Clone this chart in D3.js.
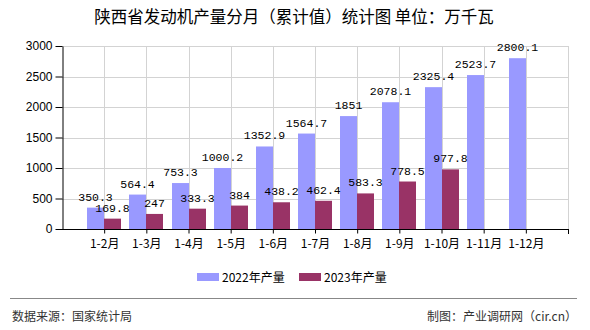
<!DOCTYPE html>
<html><head><meta charset="utf-8">
<script src="https://cdn.jsdelivr.net/npm/d3@7"></script>
<style>body{margin:0;background:#fff}svg{display:block}</style>
</head><body>
<svg id="c" width="590" height="330"></svg>
<script>
const categories = ["1-2月","1-3月","1-4月","1-5月","1-6月","1-7月","1-8月","1-9月","1-10月","1-11月","1-12月"];
const values2022 = [350.3,564.4,753.3,1000.2,1352.9,1564.7,1851,2078.1,2325.4,2523.7,2800.1];
const values2023 = [169.8,247,333.3,384,438.2,462.4,583.3,778.5,977.8,null,null];
const yTicks = [0,500,1000,1500,2000,2500,3000];
const seriesNames = ["2022年产量","2023年产量"];
const colors = ["#9999FF","#993366"];

const svg = d3.select("#c");
const L = 62, R = 568, T = 46, B = 229;
const x = d3.scalePoint().domain(categories).range([L, R]).padding(1);
const y = d3.scaleLinear().domain([0, 3000]).range([B, T]);
const bw = 17;
const cjk = "'Noto Sans CJK SC','Noto Sans',sans-serif";

// title
svg.append("text").attr("x", 294).attr("y", 23).attr("text-anchor", "middle")
  .attr("font-family", cjk).attr("font-size", 16.5).attr("fill", "#000")
  .text("陕西省发动机产量分月（累计值）统计图 单位：万千瓦");

// grid
const grid = svg.append("g").attr("stroke", "#d3d3d3").attr("stroke-width", 1);
yTicks.filter(d => d > 0).forEach(d => {
  grid.append("line").attr("x1", L).attr("x2", R).attr("y1", Math.round(y(d)) + 0.5).attr("y2", Math.round(y(d)) + 0.5);
});
categories.forEach(c => {
  grid.append("line").attr("x1", Math.round(x(c)) + 0.5).attr("x2", Math.round(x(c)) + 0.5).attr("y1", T).attr("y2", B);
});
grid.append("line").attr("x1", R + 0.5).attr("x2", R + 0.5).attr("y1", T).attr("y2", B);

// bars
const bars = svg.append("g");
categories.forEach((c, i) => {
  const cx = Math.round(x(c));
  [values2022[i], values2023[i]].forEach((v, s) => {
    if (v == null) return;
    const x0 = s === 0 ? cx - bw : cx;
    bars.append("rect").attr("x", x0).attr("y", y(v)).attr("width", bw).attr("height", B - y(v))
      .attr("fill", colors[s]);
    svg.append("text").attr("x", x0 + bw / 2).attr("y", y(v) - 7).attr("text-anchor", "middle")
      .attr("font-family", "'Liberation Mono','DejaVu Sans Mono',monospace").attr("font-size", 11.5)
      .attr("fill", "#000").text(v);
  });
});

// y axis
const ya = svg.append("g").attr("transform", `translate(${L + 0.5},0)`)
  .call(d3.axisLeft(y).tickValues(yTicks).tickFormat(d3.format("d")).tickSize(7).tickPadding(3).tickSizeOuter(0));
ya.select(".domain").attr("stroke", "#000");
ya.selectAll(".tick line").attr("stroke", "#000");
ya.selectAll("text").attr("font-family", "'Liberation Sans',Arial,sans-serif").attr("font-size", 12).attr("fill", "#000");

// x axis
const xa = svg.append("g").attr("transform", `translate(0,${B + 0.5})`)
  .call(d3.axisBottom(x).tickSize(4).tickPadding(6).tickSizeOuter(0));
xa.select(".domain").attr("stroke", "#000").attr("d", `M${L - 3},0H${R + 1}`);
xa.selectAll(".tick line").attr("stroke", "#000");
xa.selectAll("text").attr("font-family", cjk).attr("font-size", 12).attr("fill", "#000");
svg.append("line").attr("x1", R + 0.5).attr("x2", R + 0.5).attr("y1", B).attr("y2", B + 5).attr("stroke", "#000");

// legend
const lg = svg.append("g");
const lx = [197, 299];
seriesNames.forEach((n, i) => {
  lg.append("rect").attr("x", lx[i]).attr("y", 273).attr("width", 22).attr("height", 8).attr("fill", colors[i]);
  lg.append("text").attr("x", lx[i] + 25).attr("y", 281.5).attr("font-family", cjk).attr("font-size", 12)
    .attr("fill", "#000").text(n);
});

// footer
svg.append("line").attr("x1", 10).attr("x2", 577).attr("y1", 298.5).attr("y2", 298.5).attr("stroke", "#888").attr("stroke-width", 1);
svg.append("text").attr("x", 12).attr("y", 321).attr("font-family", cjk).attr("font-size", 12).attr("fill", "#333")
  .text("数据来源：国家统计局");
svg.append("text").attr("x", 577).attr("y", 321).attr("text-anchor", "end").attr("font-family", cjk).attr("font-size", 12).attr("fill", "#333")
  .text("制图：产业调研网（cir.cn）");
</script>
</body></html>
